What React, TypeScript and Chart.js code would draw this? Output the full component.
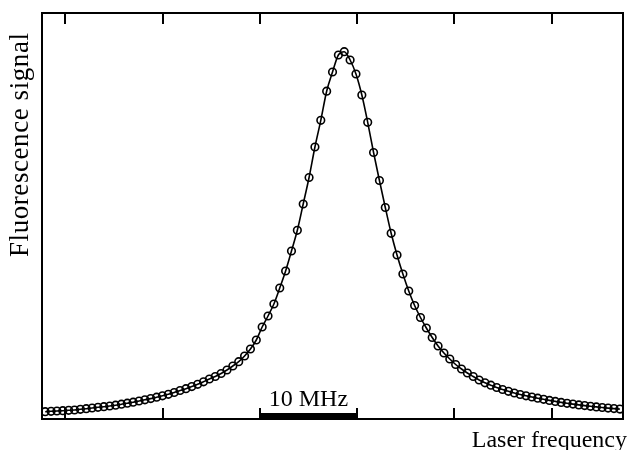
import React, { useEffect, useRef } from "react";
import { Chart, registerables } from "chart.js";

Chart.register(...registerables);

// Laser detuning grid (MHz): first sample and sample spacing
const FREQ_START = -32.07;
const FREQ_STEP = 0.603;

// Fluorescence signal (arbitrary units), one value per sample
const signal = [
  7.3, 7.7, 8.0, 8.3, 8.7, 9.0, 9.7, 10.3, 11.0, 11.7,
  12.3, 13.0, 13.8, 14.8, 15.8, 16.8, 18.0, 19.2, 20.4, 21.8,
  23.2, 24.7, 26.5, 28.5, 30.3, 32.4, 34.7, 37.2, 40.0, 42.5,
  45.5, 49.0, 53.0, 57.3, 63.0, 70.0, 79.0, 92.0, 103.0, 115.0,
  131.0, 148.0, 168.0, 188.7, 215.0, 241.5, 272.0, 298.7, 327.8, 347.0,
  364.0, 367.3, 359.0, 345.0, 324.0, 296.7, 266.5, 238.5, 211.5, 185.7,
  164.0, 145.0, 128.0, 113.5, 101.5, 91.0, 81.5, 73.0, 66.0, 60.0,
  54.5, 50.0, 46.0, 42.5, 39.0, 36.2, 33.8, 31.5, 29.5, 27.7,
  26.0, 24.5, 23.2, 22.0, 20.8, 19.7, 18.6, 17.6, 16.6, 15.7,
  14.9, 14.1, 13.4, 12.7, 12.1, 11.5, 10.9, 10.4, 9.9,
];

const frequencies = signal.map((_, i) => FREQ_START + i * FREQ_STEP);

// Axis ranges and ticks
const X_MIN = -32.4;
const X_MAX = 27.35;
const X_TICK_STEP = 10;
const Y_MIN = 0;
const Y_MAX = 406;

// Scale bar
const BAR_FROM = -10;
const BAR_TO = 0;
const BAR_LABEL = "10 MHz";
const X_TITLE = "Laser frequency";
const Y_TITLE = "Fluorescence signal";

const FONT = '"Liberation Serif", "Times New Roman", serif';

const framePlugin = {
  id: "framePlugin",
  afterDraw(chart: any) {
    const { ctx, chartArea } = chart;
    const { left, right, top, bottom } = chartArea;
    const xs = chart.scales.x;
    ctx.save();
    ctx.strokeStyle = "#000";
    ctx.lineWidth = 2;
    ctx.strokeRect(left, top, right - left, bottom - top);
    // inward ticks on top and bottom
    const tickLen = 11;
    ctx.beginPath();
    for (const t of xs.ticks) {
      const px = Math.round(xs.getPixelForValue(t.value));
      if (px <= left + 2 || px >= right - 2) continue;
      ctx.moveTo(px, bottom);
      ctx.lineTo(px, bottom - tickLen);
      ctx.moveTo(px, top);
      ctx.lineTo(px, top + tickLen);
    }
    ctx.stroke();
    // scale bar
    const b0 = xs.getPixelForValue(BAR_FROM);
    const b1 = xs.getPixelForValue(BAR_TO);
    ctx.fillStyle = "#000";
    ctx.fillRect(b0, bottom - 6, b1 - b0, 6);
    ctx.font = `24px ${FONT}`;
    ctx.textAlign = "center";
    ctx.textBaseline = "alphabetic";
    ctx.fillText(BAR_LABEL, (b0 + b1) / 2, 406);
    // axis titles
    ctx.textAlign = "right";
    ctx.fillText(X_TITLE, 627, 446.5);
    ctx.save();
    ctx.font = `27px ${FONT}`;
    const w = ctx.measureText(Y_TITLE).width;
    const target = 224;
    const spacing = Math.max(0, (target - w) / (Y_TITLE.length - 1));
    (ctx as any).letterSpacing = `${spacing.toFixed(2)}px`;
    ctx.translate(28, 145);
    ctx.rotate(-Math.PI / 2);
    ctx.textAlign = "left";
    ctx.fillText(Y_TITLE, -target / 2, 0);
    ctx.restore();
    ctx.restore();
  },
};

export default function App() {
  const ref = useRef<HTMLCanvasElement | null>(null);
  useEffect(() => {
    if (!ref.current) return;
    const chart = new Chart(ref.current, {
      type: "line",
      data: {
        datasets: [
          {
            data: frequencies.map((f, i) => ({ x: f, y: signal[i] })),
            borderColor: "#000",
            borderWidth: 1.6,
            backgroundColor: "rgba(0,0,0,0)",
            pointStyle: "circle",
            pointRadius: 3.8,
            pointBorderWidth: 1.6,
            pointBorderColor: "#000",
            pointBackgroundColor: "rgba(0,0,0,0)",
            cubicInterpolationMode: "monotone",
            fill: false,
          },
        ],
      },
      options: {
        animation: false,
        responsive: false,
        devicePixelRatio: 1,
        layout: { padding: { left: 42, right: 6, top: 13, bottom: 31 } },
        plugins: {
          legend: { display: false },
          tooltip: { enabled: false },
          title: { display: false },
        },
        scales: {
          x: {
            type: "linear",
            min: X_MIN,
            max: X_MAX,
            ticks: { display: false, stepSize: X_TICK_STEP, includeBounds: false },
            grid: { display: false, drawTicks: false },
            border: { display: false },
            title: { display: false },
          },
          y: {
            type: "linear",
            min: Y_MIN,
            max: Y_MAX,
            ticks: { display: false },
            grid: { display: false, drawTicks: false },
            border: { display: false },
            title: { display: false },
          },
        },
      },
      plugins: [framePlugin],
    });
    return () => chart.destroy();
  }, []);
  return (
    <div style={{ position: "absolute", left: 0, top: 0, width: 629, height: 450, background: "#fff" }}>
      <canvas ref={ref} width={629} height={450} />
    </div>
  );
}
